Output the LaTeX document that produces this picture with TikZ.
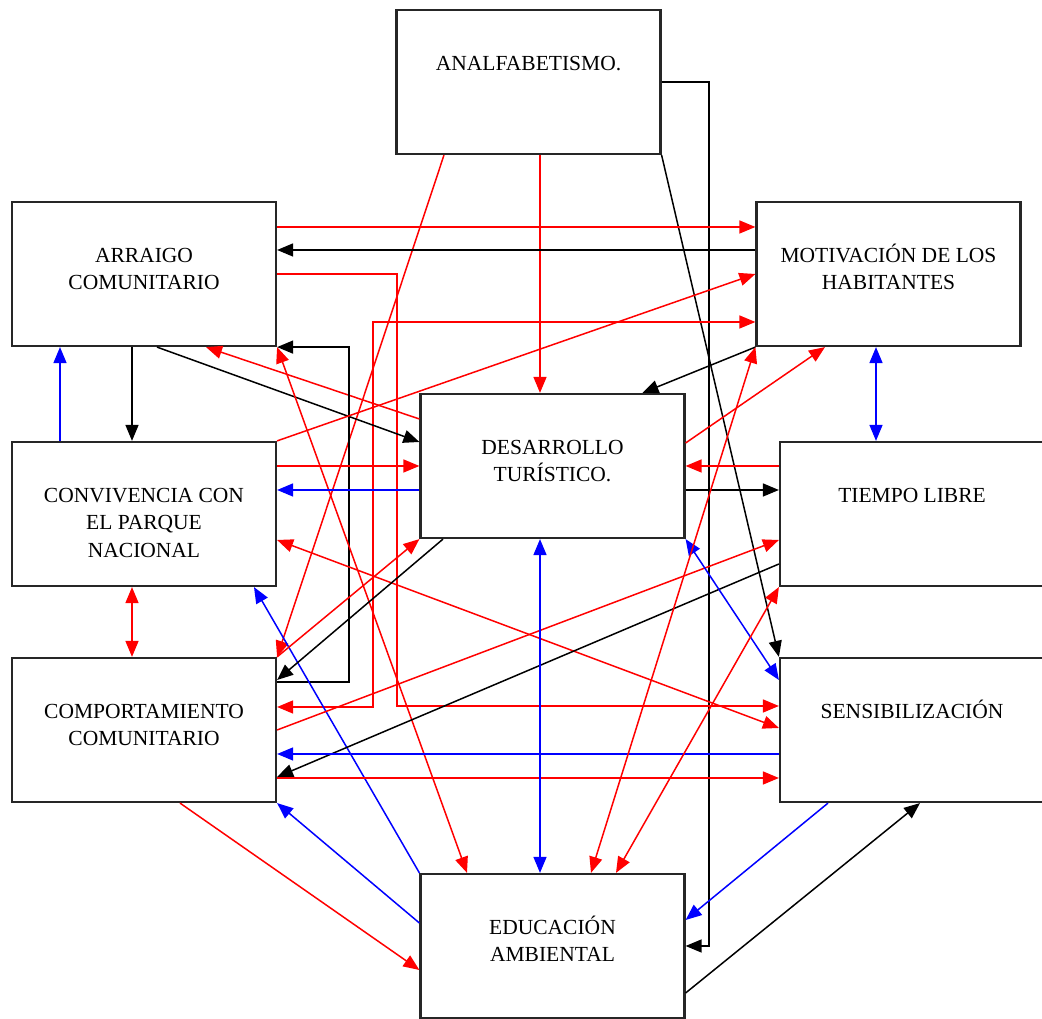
\documentclass[tikz,border=0pt]{standalone}
\usepackage{fontspec}
\setmainfont{Liberation Serif}
\usetikzlibrary{arrows.meta}

\begin{document}
\begin{tikzpicture}[
  x=1pt, y=1pt,
  box/.style={draw=black!85, line width=2.2pt, rectangle, inner sep=0pt,
    minimum width=264pt, minimum height=144pt},
  lbl/.style={anchor=north, yshift=-42pt, align=center, inner sep=0pt,
    font=\fontsize{21.5}{27.5}\selectfont},
  tip/.style={-{Triangle[length=16pt,width=13pt]}},
  both/.style={{Triangle[length=16pt,width=13pt]}-{Triangle[length=16pt,width=13pt]}},
  rd/.style={red, line width=1.5pt},
  bl/.style={blue, line width=1.5pt},
  bk/.style={black, line width=1.5pt}
]
\useasboundingbox (0,0) rectangle (1042,1019);

% boxes
\node[box, label={[lbl]north:\strut ANALFABETISMO.}] (ana) at (528.5,937) {};
\node[box, label={[lbl]north:\strut ARRAIGO\\COMUNITARIO}] (arr) at (144,745) {};
\node[box, label={[lbl]north:\strut MOTIVACIÓN DE LOS\\HABITANTES}] (mot) at (888.5,745) {};
\node[box, label={[lbl]north:\strut DESARROLLO\\TURÍSTICO.}] (des) at (552.5,553) {};
\node[box, label={[lbl]north:\strut CONVIVENCIA CON\\EL PARQUE\\NACIONAL}] (con) at (144,505) {};
\node[box, label={[lbl]north:\strut TIEMPO LIBRE}] (tie) at (912,505) {};
\node[box, label={[lbl]north:\strut COMPORTAMIENTO\\COMUNITARIO}] (com) at (144,289) {};
\node[box, label={[lbl]north:\strut SENSIBILIZACIÓN}] (sen) at (912,289) {};
\node[box, label={[lbl]north:\strut EDUCACIÓN\\AMBIENTAL}] (edu) at (552.5,73) {};

% analfabetismo
\draw[rd, tip] ([xshift=11.5pt]ana.south) -- ([xshift=-12.5pt]des.north);
\draw[rd, tip] ([xshift=-84.5pt]ana.south) -- (com.north east);
\draw[bk, tip] (ana.east) -- ++(47.5,0) |- (edu.east);
\draw[bk, tip] (ana.south east) -- (sen.north west);

% arraigo
\draw[rd, tip] ([yshift=47pt]arr.east) -- ([yshift=47pt]mot.west);
\draw[bk, tip] ([yshift=24pt]mot.west) -- ([yshift=24pt]arr.east);
\draw[rd, tip] (arr.east) -- ++(120,0) |- ([yshift=24pt]sen.west);
\draw[rd, both] ([yshift=23pt]com.east) -- ++(96,0) |- ([yshift=-48pt]mot.west);
\draw[bk, tip] ([xshift=-12pt]arr.south) -- ([xshift=-12pt]con.north);
\draw[bl, tip] ([xshift=-84pt]con.north) -- ([xshift=-84pt]arr.south);
\draw[bk, tip] ([xshift=13pt]arr.south) -- ([yshift=24pt]des.west);
\draw[rd, tip] ([yshift=47pt]des.west) -- ([xshift=62pt]arr.south);
\draw[bk, tip] ([yshift=48pt]com.east) -- ++(72,0) |- (arr.south east);
\draw[rd, both] (arr.south east) -- ([xshift=-85.5pt]edu.north);

% convivencia
\draw[rd, tip] ([yshift=48pt]con.east) -- (des.west);
\draw[bl, tip] ([yshift=-24pt]des.west) -- ([yshift=24pt]con.east);
\draw[rd, tip] (con.north east) -- (mot.west);
\draw[rd, both] ([yshift=-26pt]con.east) -- ([yshift=2pt]sen.west);
\draw[rd, both] ([xshift=-12pt]con.south) -- ([xshift=-12pt]com.north);
\draw[bl, tip] (edu.north west) -- ([xshift=110pt]con.south);

% comportamiento
\draw[bk, tip] ([xshift=-109.5pt]des.south) -- ([yshift=50pt]com.east);
\draw[rd, tip] (com.north east) -- (des.south west);
\draw[rd, tip] (com.east) -- ([yshift=-26pt]tie.west);
\draw[bk, tip] ([yshift=-50pt]tie.west) -- ([yshift=-47pt]com.east);
\draw[bl, tip] ([yshift=-24pt]sen.west) -- ([yshift=-24pt]com.east);
\draw[rd, tip] ([yshift=-48pt]com.east) -- ([yshift=-48pt]sen.west);
\draw[rd, tip] ([xshift=36pt]com.south) -- ([yshift=-24pt]edu.west);
\draw[bl, tip] ([yshift=23pt]edu.west) -- (com.south east);

% desarrollo
\draw[bk, tip] (mot.south west) -- ([xshift=90pt]des.north);
\draw[rd, tip] ([yshift=23pt]des.east) -- ([xshift=-63.5pt]mot.south);
\draw[rd, tip] ([yshift=48pt]tie.west) -- (des.east);
\draw[bk, tip] ([yshift=-24pt]des.east) -- ([yshift=24pt]tie.west);
\draw[bl, both] ([xshift=-12.5pt]des.south) -- ([xshift=-12.5pt]edu.north);
\draw[bl, both] (des.south east) -- ([yshift=50pt]sen.west);

% motivacion, tiempo libre, sensibilizacion
\draw[bl, both] ([xshift=-12.5pt]mot.south) -- ([xshift=-36pt]tie.north);
\draw[rd, both] (mot.south west) -- ([xshift=38.5pt]edu.north);
\draw[rd, both] (tie.south west) -- ([xshift=63.5pt]edu.north);
\draw[bl, tip] ([xshift=-84pt]sen.south) -- ([yshift=26pt]edu.east);
\draw[bk, tip] ([yshift=-47pt]edu.east) -- ([xshift=8pt]sen.south);
\end{tikzpicture}
\end{document}
